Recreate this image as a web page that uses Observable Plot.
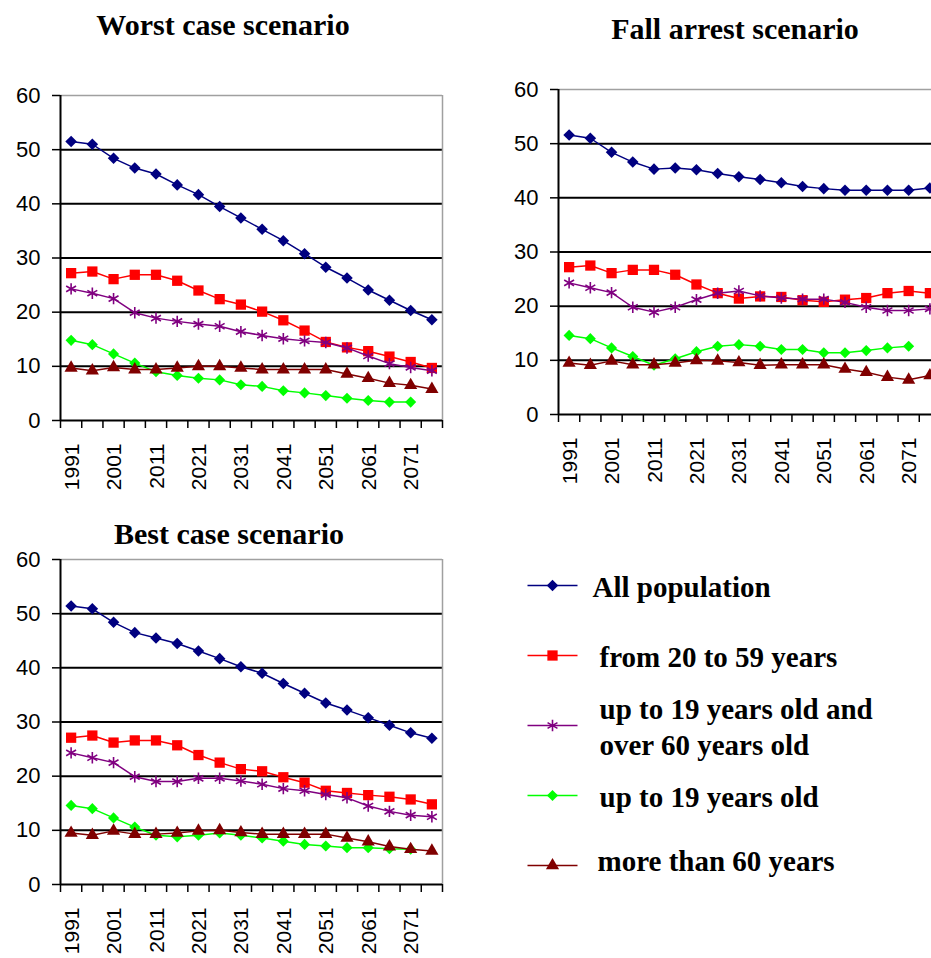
<!DOCTYPE html>
<html>
<head>
<meta charset="utf-8">
<script src="https://cdn.jsdelivr.net/npm/d3@7"></script>
<script src="https://cdn.jsdelivr.net/npm/@observablehq/plot@0.6"></script>
<style>
  body { margin: 0; background: #fff; }
  #wrap { position: relative; width: 931px; height: 958px; overflow: hidden; background: #fff; }
  .panel { position: absolute; }
  .title { position: absolute; width: 400px; text-align: center; white-space: nowrap;
           font-family: "Liberation Serif", "Times New Roman", serif; font-weight: bold;
           font-size: 30px; line-height: 30px; color: #000; }
</style>
</head>
<body>
<div id="wrap"></div>
<script>
// ---- categories / ticks ----
const years = [1991, 1996, 2001, 2006, 2011, 2016, 2021, 2026, 2031, 2036, 2041, 2046, 2051, 2056, 2061, 2066, 2071, 2076];
const labelYears = [1991, 2001, 2011, 2021, 2031, 2041, 2051, 2061, 2071];
const yTicks = [0, 10, 20, 30, 40, 50, 60];
const gridValues = [10, 20, 30, 40, 50];

// ---- series meta ----
const seriesNames = ["All population", "from 20 to 59 years", "up to 19 years old and over 60 years old", "up to 19 years old", "more than 60 years"];
const legendLabels = ["All population", "from 20 to 59 years", "up to 19 years old and\nover 60 years old", "up to 19 years old", "more than 60 years"];
const seriesColors = ["#000080", "#ff0000", "#800080", "#00ff00", "#800000"];
const seriesSymbols = ["diamond2", "square", "asterisk", "diamond2", "triangle"];

// ---- Worst case scenario ----
const worstAll  = [51.5, 51.0, 48.4, 46.6, 45.5, 43.5, 41.7, 39.5, 37.4, 35.3, 33.2, 30.8, 28.3, 26.3, 24.1, 22.2, 20.3, 18.6];
const worst2059 = [27.2, 27.5, 26.1, 26.9, 26.9, 25.8, 24.0, 22.4, 21.4, 20.1, 18.5, 16.6, 14.5, 13.5, 12.8, 11.8, 10.8, 9.7];
const worstDep  = [24.3, 23.5, 22.5, 19.9, 18.9, 18.3, 17.8, 17.4, 16.4, 15.7, 15.1, 14.7, 14.4, 13.4, 11.9, 10.5, 9.8, 9.2];
const worstU19  = [14.8, 14.0, 12.3, 10.6, 9.0, 8.3, 7.8, 7.5, 6.6, 6.3, 5.5, 5.1, 4.6, 4.1, 3.7, 3.4, 3.4];
const worst60   = [9.7, 9.2, 9.8, 9.4, 9.4, 9.7, 10.0, 10.0, 9.7, 9.4, 9.4, 9.4, 9.4, 8.6, 7.8, 6.9, 6.5, 5.8];

// ---- Fall arrest scenario ----
const fallAll  = [51.6, 51.0, 48.4, 46.6, 45.3, 45.5, 45.2, 44.5, 43.9, 43.4, 42.8, 42.1, 41.7, 41.4, 41.4, 41.4, 41.4, 41.8];
const fall2059 = [27.2, 27.5, 26.1, 26.7, 26.7, 25.8, 24.0, 22.4, 21.4, 21.8, 21.7, 21.1, 20.8, 21.2, 21.5, 22.4, 22.8, 22.4];
const fallDep  = [24.3, 23.4, 22.5, 19.8, 18.9, 19.8, 21.2, 22.4, 22.8, 21.9, 21.5, 21.3, 21.3, 20.7, 19.8, 19.2, 19.2, 19.5];
const fallU19  = [14.6, 14.0, 12.3, 10.7, 9.1, 10.3, 11.6, 12.6, 12.9, 12.6, 12.0, 12.0, 11.4, 11.4, 11.8, 12.3, 12.6];
const fall60   = [9.5, 9.1, 9.9, 9.2, 9.2, 9.5, 10.0, 9.9, 9.6, 9.1, 9.2, 9.2, 9.2, 8.4, 7.8, 6.9, 6.4, 7.2];

// ---- Best case scenario ----
const bestAll  = [51.4, 50.9, 48.4, 46.5, 45.5, 44.5, 43.1, 41.7, 40.2, 39.0, 37.1, 35.3, 33.5, 32.2, 30.8, 29.4, 28.0, 27.0];
const best2059 = [27.1, 27.5, 26.2, 26.6, 26.6, 25.7, 23.9, 22.5, 21.3, 20.9, 19.8, 18.8, 17.3, 16.9, 16.5, 16.2, 15.7, 14.8];
const bestDep  = [24.3, 23.4, 22.5, 19.9, 19.0, 19.0, 19.6, 19.6, 19.1, 18.5, 17.7, 17.3, 16.6, 16.0, 14.5, 13.5, 12.8, 12.5];
const bestU19  = [14.6, 14.0, 12.3, 10.6, 9.1, 8.8, 9.1, 9.5, 9.1, 8.6, 8.0, 7.4, 7.1, 6.8, 6.8, 6.6, 6.5];
const best60   = [9.5, 9.1, 9.9, 9.3, 9.3, 9.5, 9.9, 10.0, 9.6, 9.3, 9.3, 9.3, 9.3, 8.6, 7.9, 7.0, 6.5, 6.2];

// band boundaries (5-year steps around each category year)
const step = 5;
const xMin = years[0] - step / 2;
const xMax = years[years.length - 1] + step / 2;
const boundaries = d3.range(years.length + 1).map(i => xMin + i * step);

const sansFont = "Arial, 'Liberation Sans', sans-serif";
const serifFont = "'Liberation Serif', 'Times New Roman', serif";
const dotR = [5.2, 5.8, 5.4, 5.0, 4.9];

const wrap = document.getElementById("wrap");

function seriesMarks(seriesList) {
  const marks = [];
  seriesList.forEach((vals, i) => {
    const rows = vals.map((v, j) => ({year: years[j], value: v}));
    marks.push(Plot.line(rows, {x: "year", y: "value", stroke: seriesColors[i], strokeWidth: 1.5}));
    if (seriesSymbols[i] === "asterisk") {
      marks.push(Plot.dot(rows, {x: "year", y: "value", symbol: "asterisk", r: dotR[i], stroke: seriesColors[i], strokeWidth: 1.6, fill: "none"}));
    } else {
      marks.push(Plot.dot(rows, {x: "year", y: "value", symbol: seriesSymbols[i], r: dotR[i], fill: seriesColors[i], stroke: "none"}));
    }
  });
  return marks;
}

function panel(seriesList, left, top) {
  const chart = Plot.plot({
    width: 460, height: 420,
    marginLeft: 60, marginRight: 18, marginTop: 15, marginBottom: 80,
    x: {domain: [xMin, xMax], axis: null},
    y: {domain: [0, 60], axis: null},
    style: {background: "transparent", color: "black", fontFamily: sansFont, fontSize: "22px", overflow: "visible"},
    marks: [
      Plot.ruleY(gridValues, {stroke: "black", strokeWidth: 2}),
      Plot.ruleY([60], {stroke: "#a0a0a0", strokeWidth: 1.5}),
      Plot.ruleX([xMax], {stroke: "#a0a0a0", strokeWidth: 1.5}),
      // tick marks
      Plot.axisY({ticks: yTicks, tickSize: 8, tickFormat: () => "", strokeWidth: 1.5, label: null}),
      Plot.axisX({ticks: boundaries, tickSize: 8, tickFormat: () => "", strokeWidth: 1.5, label: null}),
      // tick labels
      Plot.text(yTicks, {y: d => d, frameAnchor: "left", dx: -20, textAnchor: "end", text: d => String(d), fontSize: 22, fill: "black"}),
      Plot.text(labelYears, {x: d => d, frameAnchor: "bottom", dx: 7.5, dy: 23, rotate: -90, textAnchor: "end", text: d => String(d), fontSize: 21, fill: "black"}),
      Plot.ruleY([0], {stroke: "black", strokeWidth: 2}),
      Plot.ruleX([xMin], {stroke: "black", strokeWidth: 2}),
      ...seriesMarks(seriesList)
    ]
  });
  chart.classList.add("panel");
  chart.style.left = left + "px";
  chart.style.top = top + "px";
  wrap.appendChild(chart);
}

function title(text, centerX, top) {
  const d = document.createElement("div");
  d.className = "title";
  d.textContent = text;
  d.style.left = (centerX - 200) + "px";
  d.style.top = top + "px";
  wrap.appendChild(d);
}

title("Worst case scenario", 223, 10);
title("Fall arrest scenario", 735, 14);
title("Best case scenario", 229, 519);

panel([worstAll, worst2059, worstDep, worstU19, worst60], 0, 80);
panel([fallAll, fall2059, fallDep, fallU19, fall60], 498, 74);
panel([bestAll, best2059, bestDep, bestU19, best60], 0, 544);

// ---- legend ----
const legendDx = [15, 22, 22, 22, 20];
const legendMarks = [];
seriesNames.forEach((name, i) => {
  const row = [{name}];
  legendMarks.push(Plot.link(row, {x1: 0, x2: 1, y1: "name", y2: "name", stroke: seriesColors[i], strokeWidth: 1.5}));
  if (seriesSymbols[i] === "asterisk") {
    legendMarks.push(Plot.dot(row, {x: 0.5, y: "name", symbol: "asterisk", r: dotR[i], stroke: seriesColors[i], strokeWidth: 1.6, fill: "none"}));
  } else {
    legendMarks.push(Plot.dot(row, {x: 0.5, y: "name", symbol: seriesSymbols[i], r: dotR[i], fill: seriesColors[i], stroke: "none"}));
  }
  legendMarks.push(Plot.text(row, {x: 1, y: "name", text: () => legendLabels[i], dx: legendDx[i], dy: i === 4 ? -6 : 0,
    textAnchor: "start", lineAnchor: "middle", lineHeight: 1.24,
    fontSize: 29, fontWeight: "bold", fontFamily: serifFont, fill: "black"}));
});
const legend = Plot.plot({
  width: 431, height: 340, margin: 0,
  x: {domain: [0, 1], range: [27, 77], axis: null},
  y: {type: "point", domain: seriesNames, range: [35, 315], padding: 0, axis: null},
  style: {background: "transparent", overflow: "visible"},
  marks: legendMarks
});
legend.classList.add("panel");
legend.style.left = "500px";
legend.style.top = "550px";
wrap.appendChild(legend);
</script>
</body>
</html>
